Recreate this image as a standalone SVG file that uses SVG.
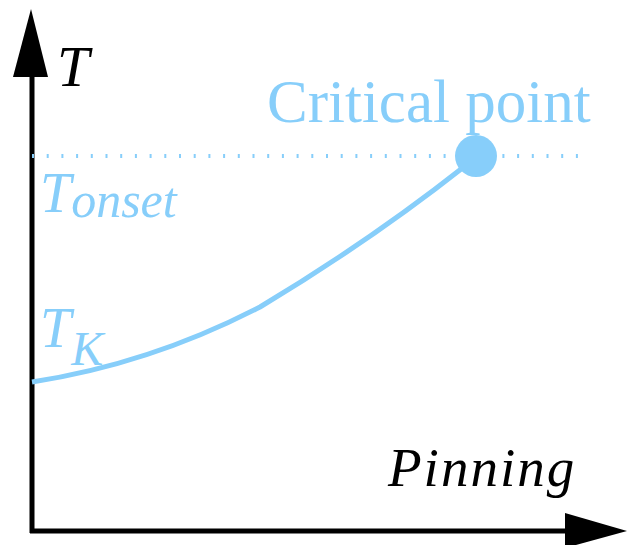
<svg xmlns="http://www.w3.org/2000/svg" width="629" height="545" viewBox="0 0 629 545">
<style>
.ax{stroke:#000;stroke-width:5;fill:none}
.blue{fill:#87CEFA}
.t{font-family:"Liberation Serif","Times New Roman",serif}
.it{font-style:italic}
</style>
<rect width="629" height="545" fill="#fff"/>
<g id="connectors">
<line class="ax" x1="32" y1="533" x2="32" y2="70"/>
<polygon points="31,9 13,77 48,77" fill="#000"/>
<line class="ax" x1="30" y1="531" x2="570" y2="531"/>
<polygon points="627,531 565,513 565,548" fill="#000"/>
<line x1="32" y1="156" x2="590" y2="156" stroke="#87CEFA" stroke-width="4" stroke-dasharray="2 12.7"/>
<path d="M32,382 Q150,364 260,307 Q370,241 465,166" fill="none" stroke="#87CEFA" stroke-width="5"/>
</g>
<g id="critical-point">
<circle cx="476" cy="156" r="21" class="blue"/>
<text class="t blue" x="267" y="122" font-size="61">Critical point</text>
</g>
<g id="axis-labels">
<text class="t it" x="57" y="86" font-size="58">T</text>
<text class="t it" x="388" y="486" font-size="55" letter-spacing="2">Pinning</text>
</g>
<g id="T-onset">
<text class="t it blue" x="40" y="212" font-size="56">T<tspan font-size="50" dy="5">onset</tspan></text>
</g>
<g id="T-K">
<text class="t it blue" x="40" y="347" font-size="56">T<tspan font-size="48" dy="18">K</tspan></text>
</g>
</svg>
